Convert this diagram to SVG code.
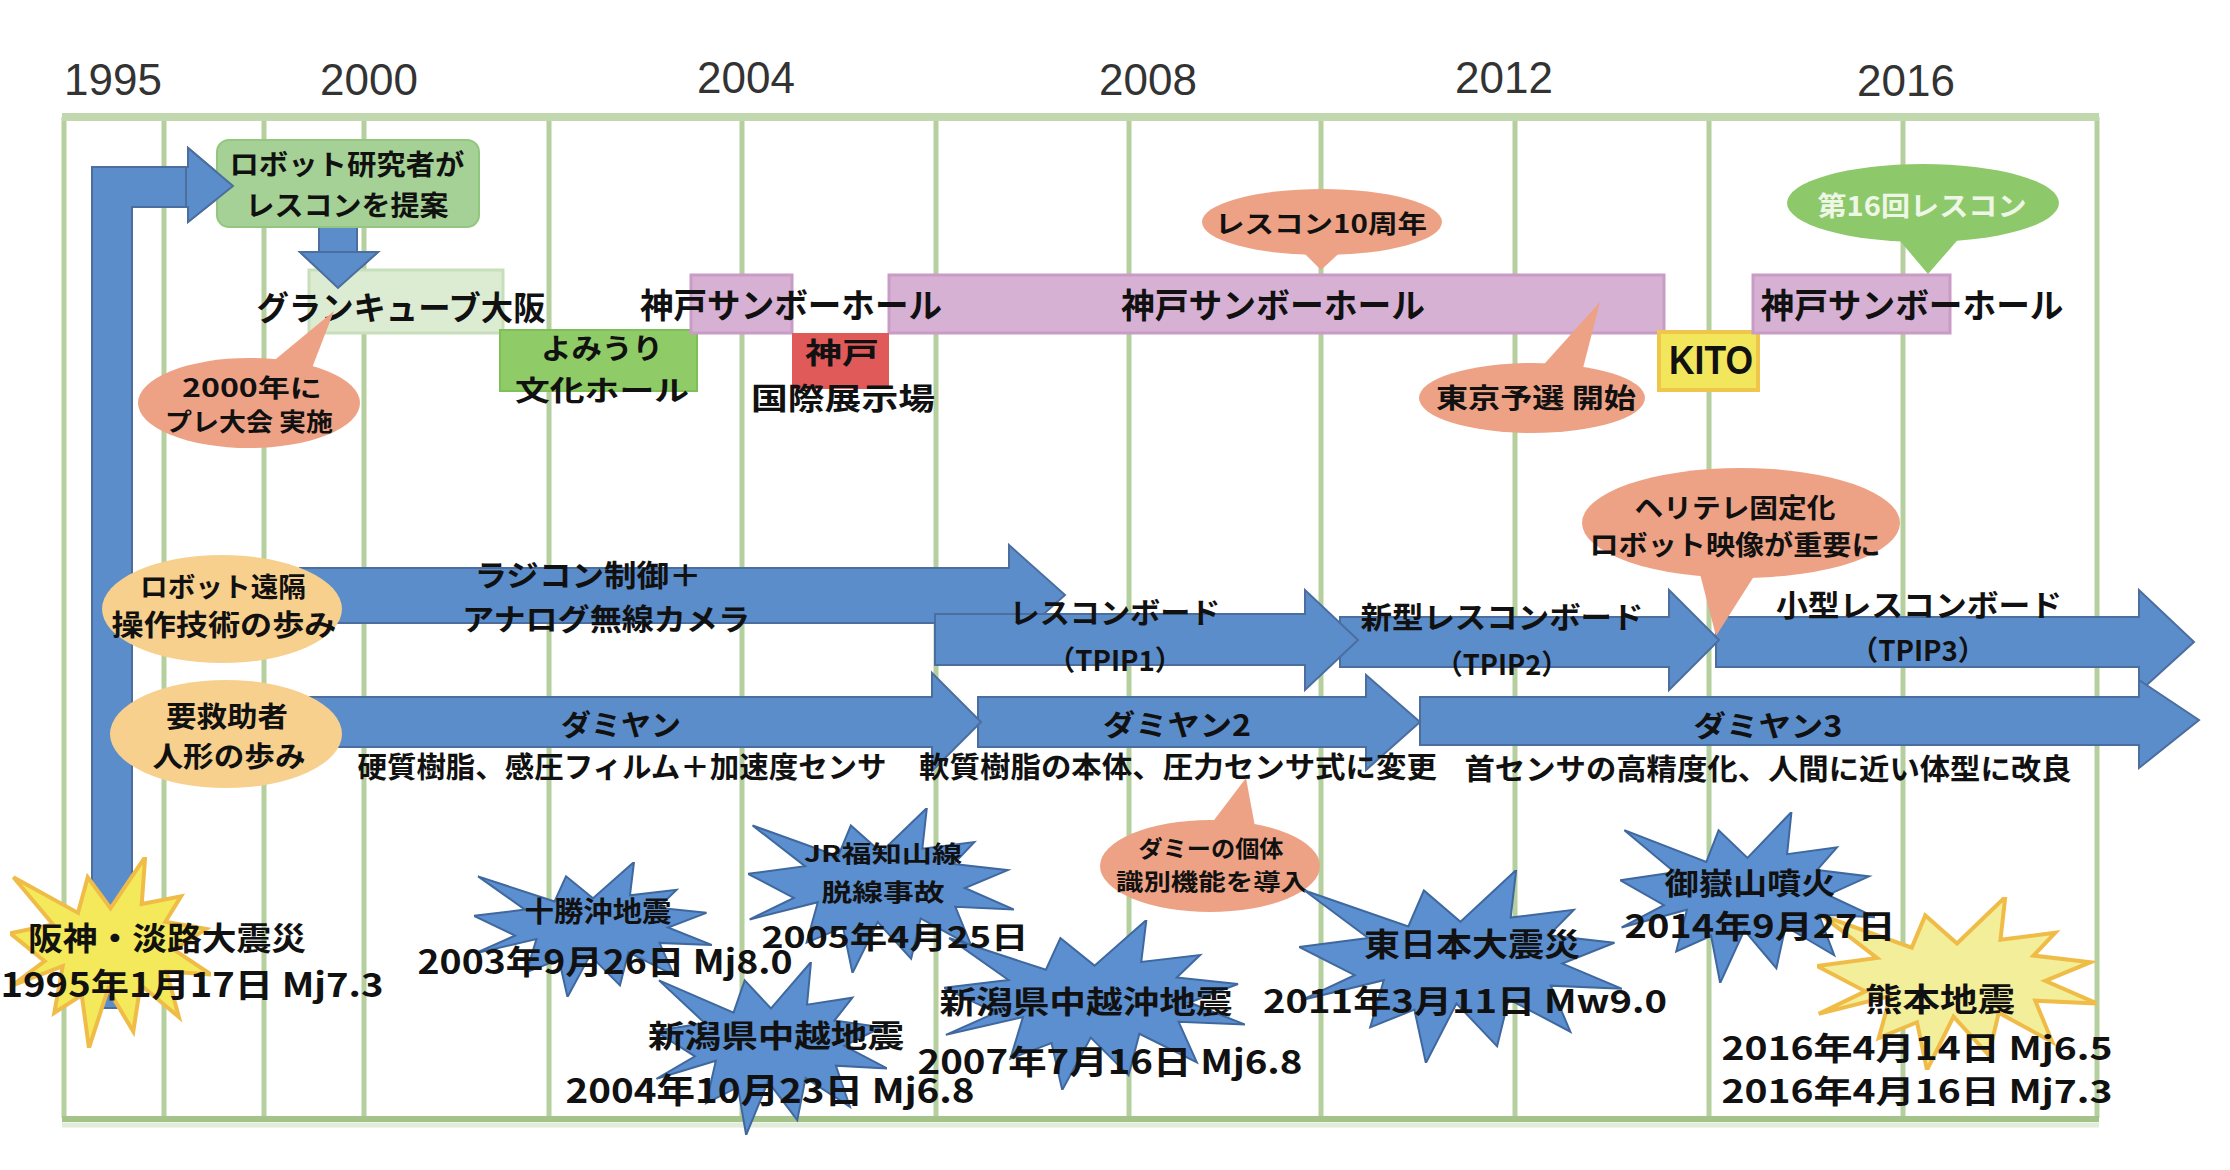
<svg xmlns="http://www.w3.org/2000/svg" xmlns:xlink="http://www.w3.org/1999/xlink" width="2230" height="1170" viewBox="0 0 2230 1170">
<style>
.t{font-family:"Noto Sans CJK JP","Noto Sans",sans-serif;font-weight:700;fill:#111;dominant-baseline:central;text-anchor:middle}
.yr{font-family:"Liberation Sans",Arial,sans-serif;font-size:44px;fill:#333;text-anchor:middle}
.lat{font-family:"Liberation Sans",Arial,sans-serif;font-weight:700;fill:#111;dominant-baseline:central;text-anchor:middle}
.gv{stroke:#b5cf9f;stroke-width:5}
.arr{fill:#5b8dcb;stroke:#4b6e9f;stroke-width:2}
.bs{fill:#5b8fd0;stroke:#3f689e;stroke-width:2}
.ys{fill:#f4e95a;stroke:#f0bc48;stroke-width:4}
.ys2{fill:#f3ee9a;stroke:#f0bc48;stroke-width:4}
.sal{fill:#eea285}
.org{fill:#f7d08e}
.pur{fill:#d6b1d4;stroke:#c99cc6;stroke-width:3}
</style>
<defs>
<symbol id="seal" viewBox="0 0 21600 21600" preserveAspectRatio="none">
<path vector-effect="non-scaling-stroke" d="M10800 5800 L14522 0 L14155 5325 L18380 4457 L16702 7315 L21097 8137 L17607 10475 L21600 13290 L16837 12942 L18145 18095 L14020 14457 L13247 19737 L10532 14935 L8485 21600 L7715 15627 L4762 17617 L5667 12337 L135 14587 L3722 11775 L0 8615 L4627 7617 L370 2295 L7312 6320 L8352 2295 Z"/>
</symbol>
</defs>
<rect width="2230" height="1170" fill="#fff"/>

<g id="years">
<text class="yr" x="113" y="95">1995</text>
<text class="yr" x="369" y="95">2000</text>
<text class="yr" x="746" y="93">2004</text>
<text class="yr" x="1148" y="95">2008</text>
<text class="yr" x="1504" y="93">2012</text>
<text class="yr" x="1906" y="96">2016</text>
</g>

<g id="grid">
<line class="gv" x1="64" y1="117" x2="64" y2="1118"/>
<line class="gv" x1="164" y1="117" x2="164" y2="1118"/>
<line class="gv" x1="264" y1="117" x2="264" y2="1118"/>
<line class="gv" x1="364" y1="117" x2="364" y2="1118"/>
<line class="gv" x1="549" y1="117" x2="549" y2="1118"/>
<line class="gv" x1="742" y1="117" x2="742" y2="1118"/>
<line class="gv" x1="936" y1="117" x2="936" y2="1118"/>
<line class="gv" x1="1129" y1="117" x2="1129" y2="1118"/>
<line class="gv" x1="1321" y1="117" x2="1321" y2="1118"/>
<line class="gv" x1="1515" y1="117" x2="1515" y2="1118"/>
<line class="gv" x1="1709" y1="117" x2="1709" y2="1118"/>
<line class="gv" x1="1903" y1="117" x2="1903" y2="1118"/>
<line class="gv" x1="2097" y1="117" x2="2097" y2="1118"/>
<line x1="62" y1="117" x2="2099" y2="117" stroke="#c1d7ad" stroke-width="8"/>
<line x1="62" y1="1119" x2="2099" y2="1119" stroke="#a3c38b" stroke-width="6"/>
<line x1="62" y1="1125" x2="2099" y2="1125" stroke="#e2ecda" stroke-width="5"/>
</g>

<g id="connectors">
<polygon id="l-arrow" class="arr" points="92,1008 92,167 188,167 188,148 233,186 188,222 188,207 132,207 132,1008"/>
<polygon id="down-arrow" class="arr" points="319,226 357,226 357,252 378,252 338,288 300,252 319,252"/>
</g>

<g id="proposal">
<rect x="217" y="140" width="262" height="87" rx="12" fill="#a6d196" stroke="#93c67f" stroke-width="2"/>
<text class="t" x="347" y="163" font-size="28" textLength="235" lengthAdjust="spacingAndGlyphs">ロボット研究者が</text>
<text class="t" x="347" y="204" font-size="28" textLength="203" lengthAdjust="spacingAndGlyphs">レスコンを提案</text>
</g>
<polygon class="arr" points="188,167 188,148 233,186 188,222 188,207 186,207 186,167"/>

<g id="grandcube">
<rect x="309" y="270" width="194" height="63" fill="#dcecd3" stroke="#c8dfbb" stroke-width="3"/>
<polygon class="arr" points="300,252 378,252 338,288"/>
<text class="t" x="401" y="306" font-size="33" textLength="289" lengthAdjust="spacingAndGlyphs">グランキューブ大阪</text>
</g>

<g id="pre2000">
<ellipse class="sal" cx="249" cy="403" rx="111" ry="45"/>
<polygon class="sal" points="265,368 312,368 334,311"/>
<text class="t" x="252" y="386" font-size="25" textLength="140" lengthAdjust="spacingAndGlyphs">2000年に</text>
<text class="t" x="249" y="420" font-size="25" textLength="168" lengthAdjust="spacingAndGlyphs">プレ大会 実施</text>
</g>

<g id="yomiuri">
<rect x="500" y="330" width="197" height="61" fill="#8fcb66" stroke="#7fbf58" stroke-width="2"/>
<text class="t" x="602" y="347" font-size="28" textLength="122" lengthAdjust="spacingAndGlyphs">よみうり</text>
<text class="t" x="602" y="389" font-size="28" textLength="174" lengthAdjust="spacingAndGlyphs">文化ホール</text>
</g>

<g id="sunbo2">
<rect class="pur" x="889" y="275" width="775" height="58"/>
<text class="t" x="1273" y="303" font-size="34" textLength="304" lengthAdjust="spacingAndGlyphs">神戸サンボーホール</text>
</g>

<g id="sunbo1">
<rect class="pur" x="691" y="275" width="101" height="58"/>
<text class="t" x="791" y="303" font-size="34" textLength="302" lengthAdjust="spacingAndGlyphs">神戸サンボーホール</text>
</g>

<g id="kobe-expo">
<rect x="792" y="333" width="97" height="56" fill="#e05a5a"/>
<text class="t" x="842" y="351" font-size="29" textLength="74" lengthAdjust="spacingAndGlyphs">神戸</text>
<text class="t" x="843" y="396" font-size="30" textLength="184" lengthAdjust="spacingAndGlyphs">国際展示場</text>
</g>

<g id="anniv10">
<ellipse class="sal" cx="1322" cy="222" rx="120" ry="33"/>
<polygon class="sal" points="1297,246 1347,246 1321,270"/>
<text class="t" x="1321" y="222" font-size="25" textLength="212" lengthAdjust="spacingAndGlyphs">レスコン10周年</text>
</g>

<g id="tokyo">
<polygon class="sal" points="1537,372 1582,372 1600,302"/>
<ellipse class="sal" cx="1532" cy="398" rx="113" ry="35"/>
<text class="t" x="1536" y="396" font-size="27" textLength="200" lengthAdjust="spacingAndGlyphs">東京予選 開始</text>
</g>

<g id="kito">
<rect x="1659" y="332" width="99" height="58" fill="#f1e65c" stroke="#efc54c" stroke-width="4"/>
<text class="lat" x="1711" y="360" font-size="40" textLength="84" lengthAdjust="spacingAndGlyphs">KITO</text>
</g>

<g id="sunbo3">
<rect class="pur" x="1753" y="275" width="197" height="58"/>
<text class="t" x="1912" y="303" font-size="34" textLength="303" lengthAdjust="spacingAndGlyphs">神戸サンボーホール</text>
</g>

<g id="rescon16">
<ellipse cx="1923" cy="203" rx="136" ry="39" fill="#8dc96b"/>
<polygon points="1895,235 1962,235 1928,274" fill="#8dc96b"/>
<text class="t" x="1922" y="204" font-size="27" textLength="209" lengthAdjust="spacingAndGlyphs" style="fill:#eef7e6">第16回レスコン</text>
</g>

<g id="robot-track">
<polygon class="arr" points="300,568 1009,568 1009,545 1065,595 1009,645 1009,623 300,623"/>
<polygon class="arr" points="1716,617 2139,617 2139,590 2194,642 2139,692 2139,667 1716,667"/>
<polygon class="arr" points="1340,617 1669,617 1669,590 1719,640 1669,690 1669,667 1340,667"/>
<polygon class="arr" points="935,614 1305,614 1305,590 1358,640 1305,690 1305,665 935,665"/>
<text class="t" x="588" y="573" font-size="30" textLength="227" lengthAdjust="spacingAndGlyphs">ラジコン制御＋</text>
<text class="t" x="606" y="617" font-size="30" textLength="288" lengthAdjust="spacingAndGlyphs">アナログ無線カメラ</text>
<text class="t" x="1115" y="611" font-size="29" textLength="211" lengthAdjust="spacingAndGlyphs">レスコンボード</text>
<text class="t" x="1115" y="659" font-size="28" textLength="135" lengthAdjust="spacingAndGlyphs">（TPIP1）</text>
<text class="t" x="1502" y="615" font-size="30" textLength="283" lengthAdjust="spacingAndGlyphs">新型レスコンボード</text>
<text class="t" x="1502" y="663" font-size="28" textLength="133" lengthAdjust="spacingAndGlyphs">（TPIP2）</text>
<text class="t" x="1919" y="603" font-size="30" textLength="286" lengthAdjust="spacingAndGlyphs">小型レスコンボード</text>
<text class="t" x="1918" y="649" font-size="28" textLength="135" lengthAdjust="spacingAndGlyphs">（TPIP3）</text>
</g>

<g id="dummy-track">
<polygon class="arr" points="1420,697 2139,697 2139,680 2199,720 2139,768 2139,745 1420,745"/>
<polygon class="arr" points="978,697 1366,697 1366,675 1420,722 1366,770 1366,747 978,747"/>
<polygon class="arr" points="300,697 932,697 932,673 981,722 932,771 932,747 300,747"/>
<text class="t" x="621" y="723" font-size="29" textLength="120" lengthAdjust="spacingAndGlyphs">ダミヤン</text>
<text class="t" x="1177" y="723" font-size="29" textLength="148" lengthAdjust="spacingAndGlyphs">ダミヤン2</text>
<text class="t" x="1768" y="724" font-size="29" textLength="149" lengthAdjust="spacingAndGlyphs">ダミヤン3</text>
<text class="t" x="622" y="765" font-size="29" textLength="529" lengthAdjust="spacingAndGlyphs">硬質樹脂、感圧フィルム＋加速度センサ</text>
<text class="t" x="1178" y="765" font-size="29" textLength="518" lengthAdjust="spacingAndGlyphs">軟質樹脂の本体、圧力センサ式に変更</text>
<text class="t" x="1768" y="767" font-size="29" textLength="607" lengthAdjust="spacingAndGlyphs">首センサの高精度化、人間に近い体型に改良</text>
</g>

<g id="label-robot">
<ellipse class="org" cx="222" cy="609" rx="120" ry="54"/>
<text class="t" x="223" y="585" font-size="27" textLength="166" lengthAdjust="spacingAndGlyphs">ロボット遠隔</text>
<text class="t" x="224" y="623" font-size="29" textLength="225" lengthAdjust="spacingAndGlyphs">操作技術の歩み</text>
</g>

<g id="label-dummy">
<ellipse class="org" cx="226" cy="734" rx="116" ry="54"/>
<text class="t" x="227" y="715" font-size="28" textLength="122" lengthAdjust="spacingAndGlyphs">要救助者</text>
<text class="t" x="229" y="755" font-size="28" textLength="153" lengthAdjust="spacingAndGlyphs">人形の歩み</text>
</g>

<g id="heli">
<ellipse class="sal" cx="1741" cy="523" rx="159" ry="55"/>
<polygon class="sal" points="1699,570 1758,570 1716,636"/>
<text class="t" x="1735" y="506" font-size="27" textLength="201" lengthAdjust="spacingAndGlyphs">ヘリテレ固定化</text>
<text class="t" x="1735" y="543" font-size="27" textLength="291" lengthAdjust="spacingAndGlyphs">ロボット映像が重要に</text>
</g>

<g id="dummy-id">
<polygon class="sal" points="1205,832 1256,832 1246,778"/>
<ellipse class="sal" cx="1210" cy="866" rx="110" ry="46"/>
<text class="t" x="1211" y="847" font-size="23" textLength="145" lengthAdjust="spacingAndGlyphs">ダミーの個体</text>
<text class="t" x="1212" y="880" font-size="23" textLength="192" lengthAdjust="spacingAndGlyphs">識別機能を導入</text>
</g>

<g id="quake-hanshin">
<use href="#seal" class="ys" x="10" y="857" width="201" height="191"/>
</g>
<g id="quake-tokachi">
<use href="#seal" class="bs" x="474" y="862" width="238" height="135"/>
</g>
<g id="quake-jr">
<use href="#seal" class="bs" x="748" y="808" width="266" height="165"/>
</g>
<g id="quake-chuetsu">
<use href="#seal" class="bs" x="655" y="962" width="232" height="173"/>
</g>
<g id="quake-chuetsuoki">
<use href="#seal" class="bs" x="944" y="920" width="301" height="170"/>
</g>
<g id="quake-tohoku">
<use href="#seal" class="bs" x="1299" y="870" width="323" height="193"/>
</g>
<g id="quake-kumamoto">
<use href="#seal" class="ys2" x="1817" y="897" width="280" height="173"/>
</g>
<g id="quake-ontake">
<use href="#seal" class="bs" x="1620" y="812" width="255" height="171"/>
</g>

<g id="quake-texts">
<text class="t" x="167" y="936" font-size="32" textLength="278" lengthAdjust="spacingAndGlyphs">阪神・淡路大震災</text>
<text class="t" x="192" y="983" font-size="33" textLength="383" lengthAdjust="spacingAndGlyphs">1995年1月17日 Mj7.3</text>
<text class="t" x="598" y="910" font-size="28" textLength="147" lengthAdjust="spacingAndGlyphs">十勝沖地震</text>
<text class="t" x="605" y="960" font-size="33" textLength="375" lengthAdjust="spacingAndGlyphs">2003年9月26日 Mj8.0</text>
<text class="t" x="883" y="852" font-size="23" textLength="158" lengthAdjust="spacingAndGlyphs">JR福知山線</text>
<text class="t" x="883" y="890" font-size="24" textLength="123" lengthAdjust="spacingAndGlyphs">脱線事故</text>
<text class="t" x="895" y="935" font-size="30" textLength="267" lengthAdjust="spacingAndGlyphs">2005年4月25日</text>
<text class="t" x="776" y="1033" font-size="31" textLength="256" lengthAdjust="spacingAndGlyphs">新潟県中越地震</text>
<text class="t" x="770" y="1088" font-size="34" textLength="409" lengthAdjust="spacingAndGlyphs">2004年10月23日 Mj6.8</text>
<text class="t" x="1086" y="999" font-size="31" textLength="293" lengthAdjust="spacingAndGlyphs">新潟県中越沖地震</text>
<text class="t" x="1110" y="1060" font-size="33" textLength="385" lengthAdjust="spacingAndGlyphs">2007年7月16日 Mj6.8</text>
<text class="t" x="1472" y="942" font-size="32" textLength="216" lengthAdjust="spacingAndGlyphs">東日本大震災</text>
<text class="t" x="1465" y="999" font-size="32" textLength="404" lengthAdjust="spacingAndGlyphs">2011年3月11日 Mw9.0</text>
<text class="t" x="1750" y="881" font-size="30" textLength="171" lengthAdjust="spacingAndGlyphs">御嶽山噴火</text>
<text class="t" x="1760" y="924" font-size="32" textLength="271" lengthAdjust="spacingAndGlyphs">2014年9月27日</text>
<text class="t" x="1940" y="997" font-size="32" textLength="150" lengthAdjust="spacingAndGlyphs">熊本地震</text>
<text class="t" x="1917" y="1046" font-size="32" textLength="391" lengthAdjust="spacingAndGlyphs">2016年4月14日 Mj6.5</text>
<text class="t" x="1917" y="1089" font-size="32" textLength="391" lengthAdjust="spacingAndGlyphs">2016年4月16日 Mj7.3</text>
</g>
</svg>
